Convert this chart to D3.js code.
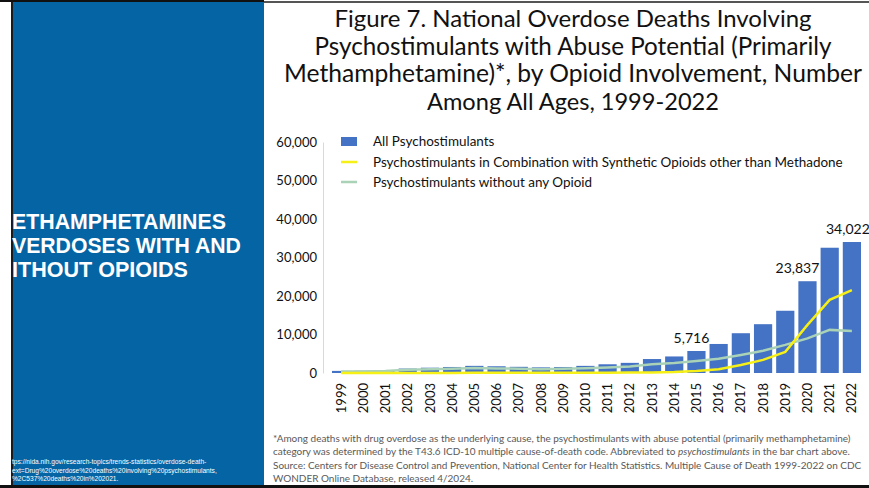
<!DOCTYPE html>
<html>
<head>
<meta charset="utf-8">
<script src="https://cdn.jsdelivr.net/npm/d3@7"></script>
<style>
  body { margin: 0; background: #fff; }
  svg { display: block; }
</style>
</head>
<body>
<svg id="chart" width="869" height="488"></svg>
<script>
// ===== DATA =====
const years = ["1999", "2000", "2001", "2002", "2003", "2004", "2005", "2006", "2007", "2008", "2009", "2010",
  "2011", "2012", "2013", "2014", "2015", "2016", "2017", "2018", "2019", "2020", "2021", "2022"];

// bars: all psychostimulants
const allPsychostimulants = [547, 578, 741, 1153, 1376, 1567, 1856, 1748, 1604, 1464, 1563, 1854,
  2266, 2635, 3627, 4298, 5716, 7542, 10333, 12676, 16167, 23837, 32537, 34022];

// yellow line: with synthetic opioids other than methadone
const withSyntheticOpioids = [10, 12, 15, 20, 25, 30, 40, 45, 40, 40, 50, 60,
  80, 100, 150, 250, 500, 1000, 2100, 3400, 5500, 12500, 19000, 21500];

// green line: without any opioid
const withoutOpioid = [400, 420, 550, 850, 1000, 1100, 1300, 1200, 1100, 1000, 1100, 1250,
  1450, 1700, 2300, 2600, 3100, 3700, 4700, 5800, 7300, 9000, 11200, 10900];

const labelledYears = ["2015", "2020", "2022"];
const yTicks = [0, 10000, 20000, 30000, 40000, 50000, 60000];

const titleLines = [
  "Figure 7. National Overdose Deaths Involving",
  "Psychostimulants with Abuse Potential (Primarily",
  "Methamphetamine)*, by Opioid Involvement, Number",
  "Among All Ages, 1999-2022"
];
const legendItems = [
  "All Psychostimulants",
  "Psychostimulants in Combination with Synthetic Opioids other than Methadone",
  "Psychostimulants without any Opioid"
];
const sideLines = ["ETHAMPHETAMINES", "VERDOSES WITH AND", "ITHOUT OPIOIDS"];
const urlLines = [
  "tps://nida.nih.gov/research-topics/trends-statistics/overdose-death-",
  "ext=Drug%20overdose%20deaths%20involving%20psychostimulants,",
  "%2C537%20deaths%20in%202021."
];
const footLines = [
  "*Among deaths with drug overdose as the underlying cause, the psychostimulants with abuse potential (primarily methamphetamine)",
  "category was determined by the T43.6 ICD-10 multiple cause-of-death code. Abbreviated to |psychostimulants| in the bar chart above.",
  "Source: Centers for Disease Control and Prevention, National Center for Health Statistics. Multiple Cause of Death 1999-2022 on CDC",
  "WONDER Online Database, released 4/2024."
];

// ===== SETUP =====
const svg = d3.select("#chart");
const font = "Lato, 'Open Sans', sans-serif";

// font size that makes a text node fill a given width
function fitSize(sel, width) {
  const size = parseFloat(sel.attr("font-size"));
  const len = sel.node().getComputedTextLength();
  return size * width / len;
}

// ===== LEFT PANEL =====
svg.append("rect").attr("x", 11).attr("y", 0).attr("width", 2).attr("height", 488).attr("fill", "#1a1a1a");
svg.append("rect").attr("x", 13).attr("y", 0).attr("width", 251).attr("height", 488).attr("fill", "#0565a4");

const sideWidths = [214, 229, 176];
sideLines.forEach((t, i) => {
  const s = svg.append("text")
    .attr("x", 12)
    .attr("y", 229 + i * 24)
    .attr("fill", "#fff")
    .attr("font-family", "'Liberation Sans', Arial, sans-serif")
    .attr("font-weight", "bold")
    .attr("font-size", 19)
    .text(t);
  s.attr("font-size", fitSize(s, sideWidths[i]).toFixed(2));
});

urlLines.forEach((t, i) => {
  svg.append("text")
    .attr("x", 12)
    .attr("y", 464 + i * 8.5)
    .attr("fill", "#fff")
    .attr("font-family", "'Liberation Sans', Arial, sans-serif")
    .attr("font-size", 6.6)
    .text(t);
});

// top / bottom frame lines
svg.append("rect").attr("x", 0).attr("y", 0).attr("width", 264).attr("height", 2).attr("fill", "#111");
svg.append("rect").attr("x", 264).attr("y", 1).attr("width", 605).attr("height", 2).attr("fill", "#555");
svg.append("rect").attr("x", 0).attr("y", 485).attr("width", 869).attr("height", 3).attr("fill", "#111");

// ===== TITLE =====
const titleWidths = [477, 517, 578, 292];
titleLines.forEach((t, i) => {
  const s = svg.append("text")
    .attr("x", 573)
    .attr("y", 27 + i * 27.7)
    .attr("text-anchor", "middle")
    .attr("fill", "#111")
    .attr("font-family", font)
    .attr("font-size", 22)
    .text(t);
  s.attr("font-size", fitSize(s, titleWidths[i]).toFixed(2));
});

// ===== SCALES =====
const x = d3.scaleBand()
  .domain(years)
  .range([330, 863])
  .paddingInner(0.18)
  .paddingOuter(0.09);

const y = d3.scaleLinear()
  .domain([0, 60000])
  .range([373, 142]);

// y axis
const yAxis = svg.append("g")
  .attr("transform", "translate(323,0)")
  .call(d3.axisLeft(y).tickValues(yTicks).tickSize(0).tickPadding(6).tickFormat(d3.format(",")));
yAxis.select(".domain").attr("stroke", "#d9d9d9");
yAxis.selectAll("text")
  .attr("font-family", font)
  .attr("font-size", 13)
  .attr("fill", "#111");

// x axis (labels only)
const xAxis = svg.append("g")
  .attr("transform", "translate(0,379)")
  .call(d3.axisBottom(x).tickSize(0).tickPadding(0));
xAxis.select(".domain").remove();
xAxis.selectAll("text")
  .attr("font-family", font)
  .attr("font-size", 13)
  .attr("fill", "#111")
  .attr("text-anchor", "end")
  .attr("dy", "0.35em")
  .attr("transform", "rotate(-90)")
  .attr("x", -4)
  .attr("y", 0);

// ===== BARS =====
svg.append("g")
  .selectAll("rect")
  .data(years)
  .join("rect")
  .attr("x", d => x(d))
  .attr("y", (d, i) => y(allPsychostimulants[i]))
  .attr("width", x.bandwidth())
  .attr("height", (d, i) => y(0) - y(allPsychostimulants[i]))
  .attr("fill", "#4472c4");

// ===== LINES =====
const line = d3.line()
  .x((d, i) => x(years[i]) + x.bandwidth() / 2)
  .y(d => y(d));

svg.append("path")
  .datum(withoutOpioid)
  .attr("d", line)
  .attr("fill", "none")
  .attr("stroke", "#a9d2b6")
  .attr("stroke-width", 2.5);

svg.append("path")
  .datum(withSyntheticOpioids)
  .attr("d", line)
  .attr("fill", "none")
  .attr("stroke", "#f6f016")
  .attr("stroke-width", 2.5);

// ===== DATA LABELS =====
const labelShift = { "2015": -5, "2020": -10, "2022": -4 };
svg.append("g")
  .selectAll("text")
  .data(labelledYears)
  .join("text")
  .attr("x", d => x(d) + x.bandwidth() / 2 + labelShift[d])
  .attr("y", d => y(allPsychostimulants[years.indexOf(d)]) - 8)
  .attr("text-anchor", "middle")
  .attr("font-family", font)
  .attr("font-size", 14)
  .attr("fill", "#111")
  .text(d => d3.format(",")(allPsychostimulants[years.indexOf(d)]));

// ===== LEGEND =====
const legend = svg.append("g").attr("transform", "translate(341,0)");
legend.append("rect").attr("x", 0).attr("y", 137).attr("width", 16).attr("height", 9).attr("fill", "#4472c4");
legend.append("line").attr("x1", 0).attr("x2", 16).attr("y1", 162).attr("y2", 162)
  .attr("stroke", "#f6f016").attr("stroke-width", 2.5);
legend.append("line").attr("x1", 0).attr("x2", 16).attr("y1", 182).attr("y2", 182)
  .attr("stroke", "#a9d2b6").attr("stroke-width", 2.5);

const legendTexts = legendItems.map((t, i) => legend.append("text")
  .attr("x", 32)
  .attr("y", 146 + i * 20.5)
  .attr("font-family", font)
  .attr("font-size", 13)
  .attr("fill", "#111")
  .text(t));
const legendSize = fitSize(legendTexts[1], 470).toFixed(2);
legendTexts.forEach(s => s.attr("font-size", legendSize));

// ===== FOOTNOTE =====
const footTexts = footLines.map((t, i) => {
  const s = svg.append("text")
    .attr("x", 273)
    .attr("y", 442 + i * 13.4)
    .attr("font-family", font)
    .attr("font-size", 11)
    .attr("fill", "#595959");
  t.split("|").forEach((part, j) => {
    s.append("tspan").attr("font-style", j % 2 ? "italic" : null).text(part);
  });
  return s;
});
// widest line sets the common size
const footSize = Math.min(fitSize(footTexts[0], 593), fitSize(footTexts[2], 589)).toFixed(2);
footTexts.forEach(s => s.attr("font-size", footSize));
</script>
</body>
</html>
